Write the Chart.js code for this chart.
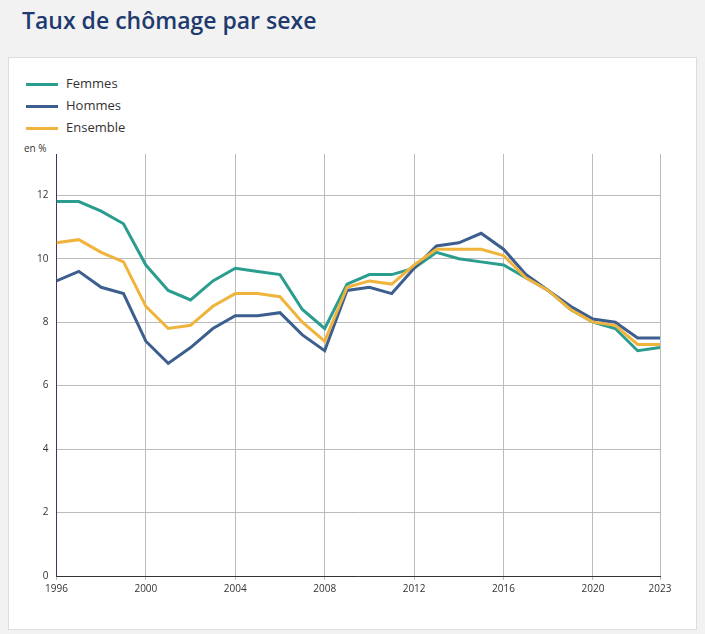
<!DOCTYPE html>
<html><head><meta charset="utf-8">
<script src="https://cdn.jsdelivr.net/npm/chart.js@4"></script>
<style>
body{margin:0;background:#f2f2f2;font-family:"Open Sans",sans-serif;width:705px;height:634px;position:relative;overflow:hidden}
h1{position:absolute;left:22px;top:4px;margin:0;font-size:23px;font-weight:600;color:#1f3a6e}
.card{position:absolute;left:8px;top:57px;width:687px;height:571px;background:#fff;border:1px solid #ddd}
.leg{position:absolute;left:17px;top:14px;font-size:13px;color:#333;line-height:22px}
.leg span{display:inline-block;width:32px;height:3px;margin-right:8px;vertical-align:middle}
.unit{position:absolute;left:15px;top:83px;font-size:10px;color:#333}
#wrap{position:absolute;left:0;top:82px;width:687px;height:458px}
</style></head><body>
<h1>Taux de chômage par sexe</h1>
<div class="card">
<div class="leg"><div><span style="background:#2a9d8f"></span>Femmes</div><div><span style="background:#3d5f8f"></span>Hommes</div><div><span style="background:#f0b43c"></span>Ensemble</div></div>
<div class="unit">en %</div>
<div id="wrap"><canvas id="c"></canvas></div>
</div>
<script>
var years = [];
for (var y = 1996; y <= 2023; y++) years.push(y);
var femmes = [11.8,11.8,11.5,11.1,9.8,9.0,8.7,9.3,9.7,9.6,9.5,8.4,7.8,9.2,9.5,9.5,9.7,10.2,10.0,9.9,9.8,9.4,9.0,8.4,8.0,7.8,7.1,7.2];
var hommes = [9.3,9.6,9.1,8.9,7.4,6.7,7.2,7.8,8.2,8.2,8.3,7.6,7.1,9.0,9.1,8.9,9.7,10.4,10.5,10.8,10.3,9.5,9.0,8.5,8.1,8.0,7.5,7.5];
var ensemble = [10.5,10.6,10.2,9.9,8.5,7.8,7.9,8.5,8.9,8.9,8.8,8.0,7.4,9.1,9.3,9.2,9.8,10.3,10.3,10.3,10.1,9.4,9.0,8.4,8.0,7.9,7.3,7.3];
var xTicks = [1996,2000,2004,2008,2012,2016,2020,2023];

function pts(arr){ return arr.map(function(v,i){ return {x: years[i], y: v}; }); }
function ds(lbl, arr, col){ return {label: lbl, data: pts(arr), borderColor: col, borderWidth: 3, pointRadius: 0, tension: 0, fill: false}; }

new Chart(document.getElementById('c'), {
  type: 'line',
  data: { datasets: [ds('Ensemble', ensemble, '#f0b43c'), ds('Hommes', hommes, '#3d5f8f'), ds('Femmes', femmes, '#2a9d8f')] },
  options: {
    responsive: true, maintainAspectRatio: false, animation: false,
    layout: { padding: { left: 20, right: 36, top: 0, bottom: 0 } },
    plugins: { legend: { display: false }, tooltip: { enabled: false } },
    scales: {
      x: { type: 'linear', min: 1996, max: 2023,
        afterBuildTicks: function(ax){ ax.ticks = xTicks.map(function(v){ return {value: v}; }); },
        ticks: { color: '#333', font: { size: 10, family: 'Open Sans' }, callback: function(v){ return String(v); }, maxRotation: 0 },
        grid: { color: '#bbb', drawTicks: true, tickLength: 4 },
        border: { color: '#333' } },
      y: { min: 0, max: 13.3, afterBuildTicks: function(ax){ ax.ticks = [0,2,4,6,8,10,12].map(function(v){ return {value: v}; }); },
        ticks: { color: '#333', font: { size: 10, family: 'Open Sans' }, padding: 8 },
        grid: { color: '#bbb', drawTicks: false },
        border: { color: '#4b2b6b', width: 1 } }
    }
  }
});
</script>
</body></html>
